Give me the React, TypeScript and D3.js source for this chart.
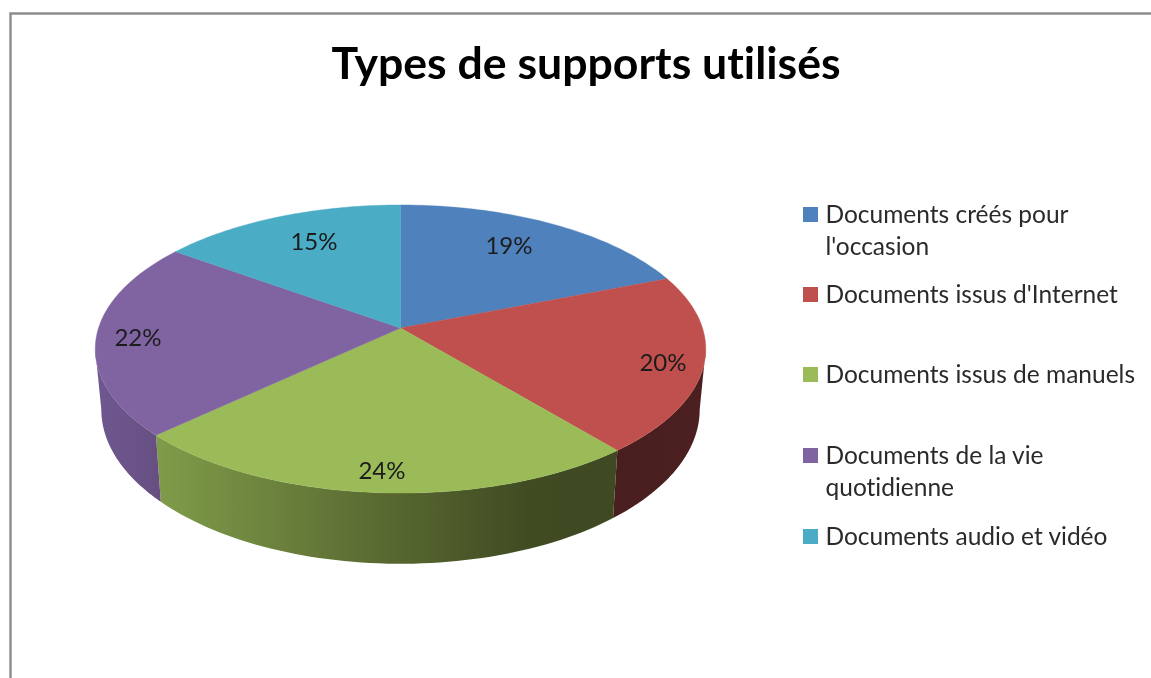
import React from "react";
import * as d3 from "d3";

const categories = [
  ["Documents créés pour", "l'occasion"],
  ["Documents issus d'Internet"],
  ["Documents issus de manuels"],
  ["Documents de la vie", "quotidienne"],
  ["Documents audio et vidéo"],
];
const values = [19, 20, 24, 22, 15];
const topColors = ["#4f81bd", "#c0504d", "#9bbb59", "#8064a2", "#4bacc6"];
const legendY = [214, 294, 374, 455, 536];
const labelPos = [
  [509, 247],
  [663, 364],
  [382, 472],
  [138, 339],
  [314, 243],
];

const W = 1151;
const H = 678;
const cx = 400.5;
const persp = 0.1458;

const top = { a: 302, b: 141, y: 328 };
const bottom = { a: 296, b: 151, y: 387 };

type Plane = typeof top;
const project = (p: Plane, angle: number): [number, number] => {
  const x = Math.sin(angle);
  const y = Math.cos(angle);
  const w = 1 + persp * y;
  return [cx + (p.a * x) / w, p.y - (p.b * y) / w];
};

const rim = (p: Plane, a0: number, a1: number) =>
  d3.range(0, 61).map((i) => project(p, a0 + ((a1 - a0) * i) / 60));

const line = d3.line();
const pie = d3.pie<number>().sort(null).startAngle(0).endAngle(2 * Math.PI);
const arcs = pie(values);

const extreme = Math.acos(-persp);
const frontStart = extreme;
const frontEnd = 2 * Math.PI - extreme;

const sideGreen = d3
  .scaleLinear<string>()
  .domain([0, 0.5, 0.82, 1])
  .range(["#7f9b49", "#586830", "#3f4a22", "#3f4a22"]);

export default function App() {
  const sides = arcs
    .map((d, i) => ({
      i,
      a0: Math.max(d.startAngle, frontStart),
      a1: Math.min(d.endAngle, frontEnd),
    }))
    .filter((s) => s.a1 > s.a0);

  const greenArc = arcs[2];
  const gx0 = project(bottom, greenArc.endAngle)[0];
  const gx1 = project(top, greenArc.startAngle)[0];

  return (
    <svg
      width={W}
      height={H}
      style={{
        position: "absolute",
        left: 0,
        top: 0,
        background: "#fff",
        fontVariantLigatures: "none",
        filter: "blur(0.45px)",
      }}
      fontFamily="Lato, Carlito, sans-serif"
    >
      <defs>
        <linearGradient id="sideGreen" gradientUnits="userSpaceOnUse" x1={gx0} x2={gx1} y1={0} y2={0}>
          {d3.range(0, 11).map((k) => (
            <stop key={k} offset={k / 10} stopColor={sideGreen(k / 10)} />
          ))}
        </linearGradient>
        <linearGradient id="sidePurple" x1="0" x2="1" y1="0" y2="0">
          <stop offset="0" stopColor="#6f5890" />
          <stop offset="1" stopColor="#664f80" />
        </linearGradient>
        <linearGradient id="sideRed" x1="0" x2="1" y1="0" y2="0">
          <stop offset="0" stopColor="#491e1e" />
          <stop offset="1" stopColor="#4c2020" />
        </linearGradient>
      </defs>

      <path d={`M10.5 ${H + 4}V13.5H${W + 4}`} fill="none" stroke="#8c8c8c" strokeWidth={2.4} />

      <text x={586} y={79} textAnchor="middle" fontSize={44.6} fontWeight={700} fill="#000">
        Types de supports utilisés
      </text>

      {sides.map((s) => (
        <path
          key={s.i}
          d={line([...rim(top, s.a0, s.a1), ...rim(bottom, s.a1, s.a0)]) + "Z"}
          fill={s.i === 1 ? "url(#sideRed)" : s.i === 2 ? "url(#sideGreen)" : "url(#sidePurple)"}
        />
      ))}

      {arcs.map((d, i) => (
        <path
          key={i}
          d={line([[cx, top.y], ...rim(top, d.startAngle, d.endAngle)]) + "Z"}
          fill={topColors[i]}
          stroke={topColors[i]}
          strokeWidth={0.4}
        />
      ))}

      {values.map((v, i) => (
        <text
          key={i}
          x={labelPos[i][0]}
          y={labelPos[i][1] + 7}
          textAnchor="middle"
          fontSize={24}
          fill="#1c1c1c"
        >
          {v}%
        </text>
      ))}

      {categories.map((lines, i) => (
        <g key={i}>
          <rect x={803} y={legendY[i] - 7} width={15} height={15} fill={topColors[i]} />
          {lines.map((t, j) => (
            <text key={j} x={825.5} y={legendY[i] + 9 + j * 32} fontSize={24.5} fill="#2a2a2a">
              {t}
            </text>
          ))}
        </g>
      ))}
    </svg>
  );
}
